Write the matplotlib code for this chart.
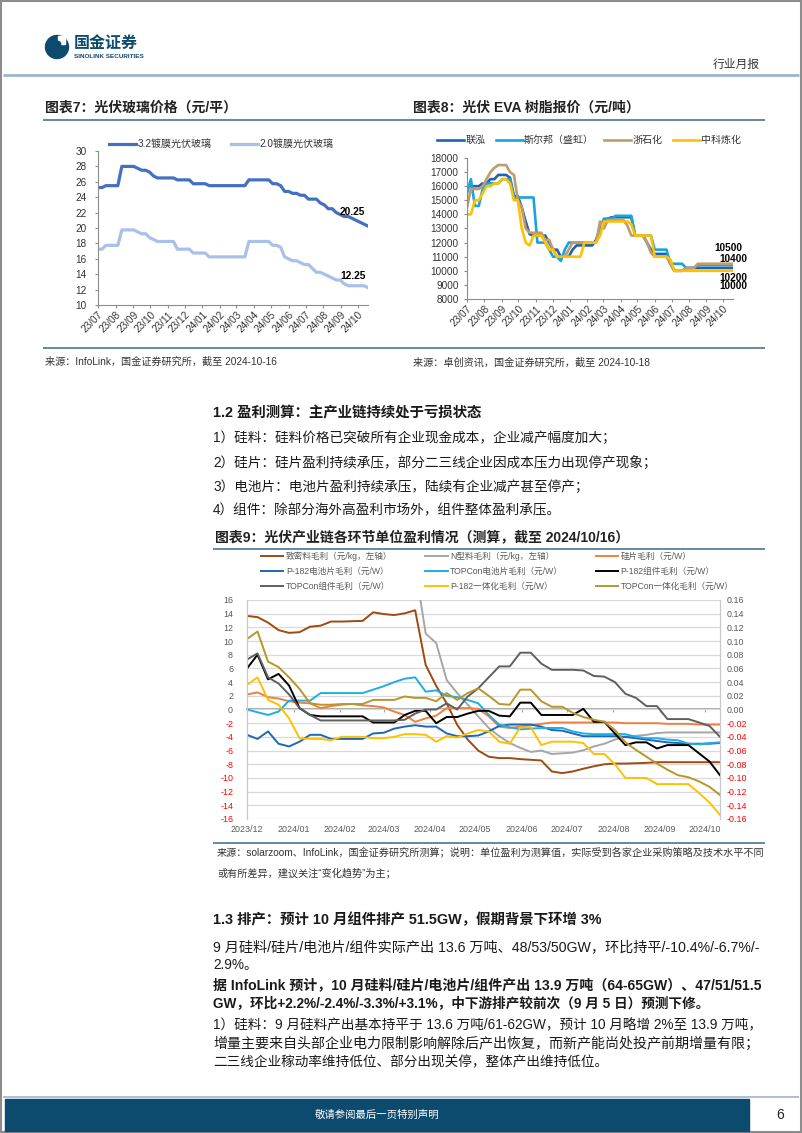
import matplotlib
matplotlib.use('Agg')
import matplotlib.pyplot as plt
import matplotlib.dates as mdates
from matplotlib.patches import Rectangle, Circle
import pandas as pd

plt.rcParams['font.family'] = ['Liberation Sans', 'Noto Sans CJK SC']
plt.rcParams['axes.unicode_minus'] = False

# ---------------- data: chart 7, weekly glass price (元/平) ----------------
glass_dates = pd.date_range('2023-07-01', periods=69, freq='7D')
glass_32 = [25.25, 25.25, 25.5, 25.5, 25.5, 25.5, 28, 28, 28, 28,
            27.75, 27.5, 27.5, 27.25, 26.75, 26.5, 26.5, 26.5, 26.5, 26.5,
            26.25, 26.25, 26.25, 26.25, 25.75, 25.75, 25.75, 25.75, 25.5, 25.5,
            25.5, 25.5, 25.5, 25.5, 25.5, 25.5, 25.5, 25.5, 26.25, 26.25,
            26.25, 26.25, 26.25, 26.25, 25.75, 25.75, 25.5, 24.75, 24.75, 24.5,
            24.5, 24.25, 24.25, 23.75, 23.75, 23.75, 23.25, 23, 22.5, 22.5,
            22, 21.75, 21.5, 21.5, 21.25, 21, 20.75, 20.5, 20.25]
glass_20 = [17.25, 17.25, 17.75, 17.75, 17.75, 17.75, 19.75, 19.75, 19.75, 19.75,
            19.5, 19.25, 19.25, 18.75, 18.5, 18.25, 18.25, 18.25, 18.25, 18.25,
            17.25, 17.25, 17.25, 17.25, 16.75, 16.75, 16.75, 16.75, 16.25, 16.25,
            16.25, 16.25, 16.25, 16.25, 16.25, 16.25, 16.25, 16.25, 18.25, 18.25,
            18.25, 18.25, 18.25, 18.25, 17.75, 17.75, 17.5, 16.25, 16.0, 15.75,
            15.75, 15.5, 15.25, 15.25, 14.75, 14.25, 14.25, 14.0, 13.75, 13.5,
            13.25, 13.25, 12.75, 12.5, 12.5, 12.5, 12.5, 12.5, 12.25]
glass_names = ['3.2镀膜光伏玻璃', '2.0镀膜光伏玻璃']

# ---------------- data: chart 8, EVA resin quotes (元/吨) ----------------
eva_dates = pd.date_range('2023-07-01', periods=69, freq='7D')
eva_lianhong = [16000] * 4 + [16200] * 2 + [16500] * 2 + [16800] * 3 + [16600] + [15300] * 2 + \
    [14500, 13500, 12600] + [12500] * 4 + [12000] + [11500] * 2 + [11000] * 3 + [11500] + \
    [11800] * 5 + [12200, 13000, 13500, 13700] + [13800] * 6 + [12500] * 3 + [12000, 11500] + \
    [11200] * 4 + [10500] + [10000] * 3 + [10200] * 13
eva_sierbang = [15500, 16500, 14600, 14600, 15800] + [16200] * 4 + [16500] * 3 + [15200] * 6 + \
    [12000] * 3 + [11500] + [11000] * 2 + [10700, 11500] + [12000] * 8 + [13000] + [13700] * 3 + \
    [13900] * 5 + [12500] * 5 + [11500] * 4 + [10500] * 4 + [10200] * 3 + [10400] * 10
eva_zheshihua = [14500] + [15800] * 3 + [16000, 16500, 17000, 17300] + [17500] * 3 + \
    [17000, 16800, 15000, 14500, 13000] + [12700] * 4 + [12200] * 2 + [11500] + [11000] * 3 + \
    [11500] + [12000] * 7 + [13500, 13000] + [13600] * 5 + [13200] + [12500] * 4 + [12000, 11300] + \
    [11000] * 4 + [10500] + [10000] * 3 + [10200] * 3 + [10500] * 10
eva_zhongke = [14000] * 2 + [15000] * 2 + [15500] + [16000] * 2 + [16200] * 2 + [16500] * 2 + \
    [16200] + [15000] * 2 + [13000, 12000, 11800] + [12500] * 3 + [12000] + [11500] * 2 + \
    [11000] * 7 + [12000] * 4 + [12500] + [13500] * 7 + [13300] + [12500] * 5 + [11000] * 4 + \
    [10800] + [10000] * 16
eva_names = ['联泓', '斯尔邦（盛虹）', '浙石化', '中科炼化']

# ---------------- data: chart 9, unit margins ----------------
margin_dates = pd.date_range('2023-12-01', periods=46, freq='7D')
# left axis, 元/kg
dense_kg = [13.67, 13.5, 12.7, 11.6, 11.2, 11.3, 12.1, 12.25, 12.85, 12.85,
            12.9, 12.95, 14.2, 13.95, 13.8, 14.05, 14.5, 6.5, 3.45, 0.9,
            -2.25, -4.4, -6.0, -6.9, -7.1, -7.1, -7.25, -7.35, -7.45, -9.05,
            -9.3, -9.05, -8.65, -8.3, -8.0, -7.9, -7.9, -7.85, -7.8, -7.7,
            -7.7, -7.7, -7.7, -7.7, -7.7, -7.7]
ntype_kg = [None] * 16 + [21, 11.1, 9.7, 4.3, 2.4, 0.7, -1.0, -2.7, -3.9, -4.9,
                          -5.6, -6.2, -6.0, -6.5, -6.4, -6.3, -5.95, -5.4, -5.0, -4.4,
                          -3.95, -3.85, -3.7, -3.45, -3.35, -3.35, -3.35, -3.35, -3.35, -3.35]
# right axis, 元/W
wafer_w = [0.022, 0.025, 0.018, 0.016, 0.012, 0.010, 0.009, 0.002, 0.005, 0.007,
           0.008, 0.006, 0.005, 0.003, -0.003, -0.008, -0.018, -0.013, -0.009, 0.002,
           0.002, 0.002, 0.001, -0.010, -0.025, -0.027, -0.025, -0.023, -0.021, -0.019,
           -0.019, -0.019, -0.019, -0.019, -0.019, -0.019, -0.020, -0.020, -0.020, -0.020,
           -0.021, -0.021, -0.021, -0.022, -0.022, -0.022]
p182_cell_w = [-0.037, -0.043, -0.032, -0.050, -0.054, -0.047, -0.037, -0.037, -0.043, -0.043,
               -0.043, -0.043, -0.035, -0.034, -0.028, -0.025, -0.023, -0.025, -0.025, -0.035,
               -0.039, -0.039, -0.038, -0.032, -0.024, -0.022, -0.022, -0.022, -0.025, -0.030,
               -0.031, -0.035, -0.039, -0.039, -0.039, -0.039, -0.040, -0.042, -0.044, -0.046,
               -0.048, -0.049, -0.050, -0.050, -0.050, -0.049]
topcon_cell_w = [0.000, -0.004, -0.008, -0.003, 0.013, 0.013, 0.013, 0.024, 0.024, 0.024,
                 0.024, 0.024, 0.029, 0.034, 0.040, 0.045, 0.047, 0.026, 0.028, 0.020,
                 0.018, 0.014, 0.009, -0.008, -0.022, -0.026, -0.029, -0.028, -0.027, -0.027,
                 -0.027, -0.032, -0.035, -0.036, -0.036, -0.036, -0.036, -0.040, -0.042, -0.042,
                 -0.044, -0.045, -0.050, -0.051, -0.049, -0.048]
p182_module_w = [0.060, 0.080, 0.044, 0.052, 0.035, 0.002, -0.008, -0.010, -0.010, -0.010,
                 -0.010, -0.010, -0.019, -0.019, -0.019, -0.008, -0.002, -0.002, -0.020, -0.011,
                 -0.011, -0.006, -0.002, -0.002, -0.009, -0.010, 0.010, 0.010, -0.008, -0.008,
                 -0.008, -0.008, 0.001, -0.018, -0.018, -0.035, -0.052, -0.048, -0.048, -0.057,
                 -0.052, -0.052, -0.052, -0.064, -0.076, -0.096]
topcon_module_w = [0.073, 0.082, 0.047, 0.038, 0.022, 0.002, -0.008, -0.016, -0.016, -0.016,
                   -0.016, -0.016, -0.016, -0.016, -0.016, -0.015, -0.006, 0.000, 0.000, 0.009,
                   0.000, 0.019, 0.031, 0.047, 0.063, 0.063, 0.083, 0.083, 0.067, 0.058,
                   0.058, 0.058, 0.057, 0.049, 0.048, 0.040, 0.023, 0.017, 0.005, 0.005,
                   -0.014, -0.014, -0.014, -0.019, -0.024, -0.040]
p182_integ_w = [0.036, 0.047, 0.014, 0.007, -0.013, -0.042, -0.043, -0.043, -0.045, -0.040,
                -0.040, -0.040, -0.042, -0.042, -0.040, -0.036, -0.036, -0.037, -0.047, -0.039,
                -0.041, -0.035, -0.030, -0.032, -0.047, -0.050, -0.026, -0.026, -0.052, -0.047,
                -0.047, -0.047, -0.049, -0.065, -0.065, -0.080, -0.100, -0.100, -0.100, -0.109,
                -0.109, -0.109, -0.109, -0.122, -0.136, -0.154]
topcon_integ_w = [0.103, 0.114, 0.070, 0.062, 0.047, 0.030, 0.009, 0.007, 0.007, 0.008,
                  0.008, 0.008, 0.014, 0.014, 0.014, 0.019, 0.017, 0.017, 0.012, 0.024,
                  0.014, 0.024, 0.031, 0.020, 0.008, 0.007, 0.029, 0.029, 0.012, 0.004,
                  0.004, -0.005, -0.011, -0.015, -0.018, -0.030, -0.048, -0.059, -0.069, -0.079,
                  -0.088, -0.096, -0.099, -0.105, -0.113, -0.125]
margin_names = ['致密料毛利（元/kg，左轴）', 'N型料毛利（元/kg，左轴）', '硅片毛利（元/W）',
                'P-182电池片毛利（元/W）', 'TOPCon电池片毛利（元/W）', 'P-182组件毛利（元/W）',
                'TOPCon组件毛利（元/W）', 'P-182一体化毛利（元/W）', 'TOPCon一体化毛利（元/W）']

# ---------------- page ----------------
W, H = 802, 1133
NAVY = '#0C4A6E'
fig = plt.figure(figsize=(W / 100, H / 100), dpi=100)
page = fig.add_axes([0, 0, 1, 1], zorder=0)
page.set_xlim(0, W)
page.set_ylim(H, 0)
page.axis('off')
renderer = fig.canvas.get_renderer()


def ax_at(x0, y0, x1, y1):
    return fig.add_axes([x0 / W, 1 - y1 / H, (x1 - x0) / W, (y1 - y0) / H], zorder=2)


def put(x, y, s, size, weight='normal', color='#1a1a1a', width=None, **kw):
    t = page.text(x, y, s, fontsize=size, fontweight=weight, color=color,
                  va='center', ha=kw.pop('ha', 'left'), **kw)
    if width:
        # stretch justified lines to the column width
        bb = t.get_window_extent(renderer)
        t.set_fontsize(size * width / bb.width)
    return t


def hline(y, x0, x1, color, lw):
    page.plot([x0, x1], [y, y], color=color, lw=lw, solid_capstyle='butt')


page.add_patch(Rectangle((1, 1), W - 2, H - 2, fill=False, ec='#8C8C8C', lw=1.5))

# header
page.add_patch(Circle((57, 47), 11.5, color=NAVY))
page.add_patch(Rectangle((58, 36), 7, 8, color='white'))
page.add_patch(Circle((57.5, 44.5), 3.2, color=NAVY))
put(74, 43, '国金证券', 11.5, 'bold', NAVY, family=['Noto Sans CJK SC'])
put(74, 56, 'SINOLINK SECURITIES', 4.6, 'bold', NAVY)
put(713, 64, '行业月报', 8.5, color='#333333', family=['Noto Sans CJK SC'])
hline(75, 3, 799, '#9DB5C9', 2)

# chart titles
put(45, 108, '图表7：光伏玻璃价格（元/平）', 10, 'bold', '#222222')
put(413, 108, '图表8：光伏 EVA 树脂报价（元/吨）', 10, 'bold', '#222222')
hline(120, 43, 765, '#4A7391', 1.2)
hline(348, 43, 765, '#4A7391', 1.2)
put(45, 362, '来源：InfoLink，国金证券研究所，截至 2024-10-16', 7.3, color='#333333')
put(413, 362, '来源：卓创资讯，国金证券研究所，截至 2024-10-18', 7.3, color='#333333')

# ---------------- chart 7 ----------------
ax7 = ax_at(98, 151, 368, 305)
ax7.plot(glass_dates, glass_32, color='#4470C2', lw=2.3, label=glass_names[0])
ax7.plot(glass_dates, glass_20, color='#A9C1EA', lw=2.3, label=glass_names[1])
ax7.set_ylim(10, 30)
ax7.set_yticks(range(10, 31, 2))
ax7.set_xlim(glass_dates[0], glass_dates[-1])
ax7.xaxis.set_major_locator(mdates.MonthLocator())
ax7.xaxis.set_major_formatter(mdates.DateFormatter('%y/%m'))
ax7.annotate(f'{glass_32[-1]:.2f}', (glass_dates[-1], glass_32[-1]), xytext=(-11, 10),
             textcoords='offset points', ha='center', va='center', fontsize=7.4, fontweight='bold')
ax7.annotate(f'{glass_20[-1]:.2f}', (glass_dates[-1], glass_20[-1]), xytext=(-11, 8.5),
             textcoords='offset points', ha='center', va='center', fontsize=7.4, fontweight='bold')
ax7.legend(loc='center left', bbox_to_anchor=(109 / W, 1 - 144 / H), bbox_transform=fig.transFigure,
           ncol=2, frameon=False, fontsize=7.2, handlelength=2.7, handletextpad=0.15,
           columnspacing=1.9, borderpad=0, borderaxespad=0)

# ---------------- chart 8 ----------------
ax8 = ax_at(467, 158, 733, 299)
eva_series = [eva_lianhong, eva_sierbang, eva_zheshihua, eva_zhongke]
eva_colors = ['#1F62B0', '#1AA3E2', '#BF9B6E', '#FFC000']
for vals, name, c in zip(eva_series, eva_names, eva_colors):
    ax8.plot(eva_dates, vals, color=c, lw=1.9, label=name)
ax8.set_ylim(8000, 18000)
ax8.set_yticks(range(8000, 18001, 1000))
ax8.set_xlim(eva_dates[0], eva_dates[-1])
ax8.xaxis.set_major_locator(mdates.MonthLocator())
ax8.xaxis.set_major_formatter(mdates.DateFormatter('%y/%m'))
end_offsets = {2: (-3, 11), 1: (0, 4.5), 0: (0, -7), 3: (0, -11)}
for i, (dx, dy) in end_offsets.items():
    ax8.annotate(str(eva_series[i][-1]), (eva_dates[-1], eva_series[i][-1]), xytext=(dx, dy),
                 textcoords='offset points', ha='center', va='center', fontsize=7.2, fontweight='bold')
ax8.legend(loc='center left', bbox_to_anchor=(437 / W, 1 - 140 / H), bbox_transform=fig.transFigure,
           ncol=4, frameon=False, fontsize=7.2, handlelength=2.7, handletextpad=0.15,
           columnspacing=1.0, borderpad=0, borderaxespad=0)

for ax, pad, size in ((ax7, 6, 7.2), (ax8, 4, 7.2)):
    for s in ('top', 'right'):
        ax.spines[s].set_visible(False)
    for s in ('left', 'bottom'):
        ax.spines[s].set_color('#8C8C8C')
        ax.spines[s].set_linewidth(0.8)
    ax.tick_params(axis='y', length=2, color='#8C8C8C', labelsize=size, labelcolor='#333333', pad=pad)
    ax.tick_params(axis='x', length=2, color='#8C8C8C', labelsize=size, labelcolor='#333333', pad=1.5)
    plt.setp(ax.get_xticklabels(), rotation=45, ha='right', rotation_mode='anchor')
    for t in ax.get_legend().get_texts():
        t.set_color('#333333')

# ---------------- section 1.2 text ----------------
put(213, 413, '1.2 盈利测算：主产业链持续处于亏损状态', 10.4, 'bold')
put(213, 438, '1）硅料：硅料价格已突破所有企业现金成本，企业减产幅度加大；', 9.8)
put(213, 463, '2）硅片：硅片盈利持续承压，部分二三线企业因成本压力出现停产现象；', 9.8)
put(213, 487, '3）电池片：电池片盈利持续承压，陆续有企业减产甚至停产；', 9.8)
put(213, 510, '4）组件：除部分海外高盈利市场外，组件整体盈利承压。', 9.8)

put(215, 537, '图表9：光伏产业链各环节单位盈利情况（测算，截至 2024/10/16）', 10, 'bold', '#222222')
hline(549, 213, 765, '#4A7391', 1.2)
hline(843, 213, 765, '#4A7391', 1.2)

# ---------------- chart 9 ----------------
ax9 = ax_at(247, 600, 720, 819)
ax9r = ax9.twinx()
margin_colors = ['#9E4A12', '#A6A6A6', '#EE8040', '#1F67B8', '#1DAEE6',
                 '#000000', '#5F5F5F', '#FFC000', '#B8962A']
left_series = [dense_kg, ntype_kg]
right_series = [wafer_w, p182_cell_w, topcon_cell_w, p182_module_w,
                topcon_module_w, p182_integ_w, topcon_integ_w]
handles = []
for i, vals in enumerate(left_series):
    ys = [float('nan') if v is None else v for v in vals]
    handles += ax9.plot(margin_dates, ys, color=margin_colors[i], lw=1.4)
for i, vals in enumerate(right_series, start=2):
    handles += ax9r.plot(margin_dates, vals, color=margin_colors[i], lw=1.4)

ax9.set_xlim(margin_dates[0], margin_dates[-1])
ax9.set_ylim(-16, 16)
ax9r.set_ylim(-0.16, 0.16)
left_ticks = list(range(-16, 17, 2))
right_ticks = [v / 100 for v in left_ticks]
ax9.set_yticks(left_ticks)
ax9.set_yticklabels([str(v) for v in left_ticks])
ax9r.set_yticks(right_ticks)
ax9r.set_yticklabels([f'{v:.2f}' for v in right_ticks])
for lab, v in zip(ax9.get_yticklabels(), left_ticks):
    lab.set_color('#FF0000' if v < 0 else '#595959')
for lab, v in zip(ax9r.get_yticklabels(), left_ticks):
    lab.set_color('#FF0000' if v < 0 else '#595959')
ax9.yaxis.grid(True, color='#D9D9D9', lw=0.9)
ax9.set_axisbelow(True)
ax9.xaxis.set_major_locator(mdates.MonthLocator())
ax9.xaxis.set_major_formatter(mdates.DateFormatter('%Y/%m'))
ax9.tick_params(axis='x', length=0, labelsize=6.4, labelcolor='#595959', pad=4)
ax9.tick_params(axis='y', length=0, labelsize=6.4, pad=10)
ax9r.tick_params(axis='y', length=0, labelsize=6.4, pad=5)
for a in (ax9, ax9r):
    a.spines['top'].set_visible(False)
    a.spines['bottom'].set_visible(False)
    a.spines['left'].set_color('#C8C8C8')
    a.spines['right'].set_color('#C8C8C8')
zero = ax9.secondary_xaxis(0.5)
zero.xaxis.set_major_locator(mdates.MonthLocator())
zero.tick_params(axis='x', direction='in', length=2.5, color='#A0A0A0', labeltop=False, labelbottom=False)
zero.spines['top'].set_color('#A0A0A0')
zero.spines['top'].set_linewidth(1.3)

order = [0, 3, 6, 1, 4, 7, 2, 5, 8]
leg9 = ax9.legend([handles[i] for i in order], [margin_names[i] for i in order], ncol=3,
                  loc='center left', bbox_to_anchor=(261 / W, 1 - 571 / H), bbox_transform=fig.transFigure,
                  frameon=False, fontsize=6.2, handlelength=2.6, handletextpad=0.3,
                  columnspacing=3.8, labelspacing=0.7, borderpad=0, borderaxespad=0)
for t in leg9.get_texts():
    t.set_color('#595959')

# ---------------- source + section 1.3 ----------------
put(217, 853, '来源：solarzoom、InfoLink，国金证券研究所测算；说明：单位盈利为测算值，实际受到各家企业采购策略及技术水平不同',
    7.3, color='#333333', width=544)
put(217, 873, '或有所差异，建议关注“变化趋势”为主；', 7.3, color='#333333')

put(213, 920, '1.3 排产：预计 10 月组件排产 51.5GW，假期背景下环增 3%', 10.4, 'bold')
put(213, 947, '9 月硅料/硅片/电池片/组件实际产出 13.6 万吨、48/53/50GW，环比持平/-10.4%/-6.7%/-', 9.8, width=548)
put(213, 965, '2.9%。', 9.8)
put(213, 985, '据 InfoLink 预计，10 月硅料/硅片/电池片/组件产出 13.9 万吨（64-65GW）、47/51/51.5', 9.8, 'bold', width=548)
put(213, 1003, 'GW，环比+2.2%/-2.4%/-3.3%/+3.1%，中下游排产较前次（9 月 5 日）预测下修。', 9.8, 'bold')
put(213, 1025, '1）硅料：9 月硅料产出基本持平于 13.6 万吨/61-62GW，预计 10 月略增 2%至 13.9 万吨，', 9.8, width=548)
put(213, 1044, '增量主要来自头部企业电力限制影响解除后产出恢复，而新产能尚处投产前期增量有限；', 9.8, width=548)
put(213, 1062, '二三线企业稼动率维持低位、部分出现关停，整体产出维持低位。', 9.8)

# footer
hline(1097, 3, 799, '#9DB5C9', 1.2)
page.add_patch(Rectangle((5, 1099), 744, 32, color=NAVY))
put(377, 1115, '敬请参阅最后一页特别声明', 7.5, color='white', ha='center')
put(780, 1115, '6', 10, color='#222222', ha='center')

fig.savefig('out.png', dpi=100, facecolor='white')
